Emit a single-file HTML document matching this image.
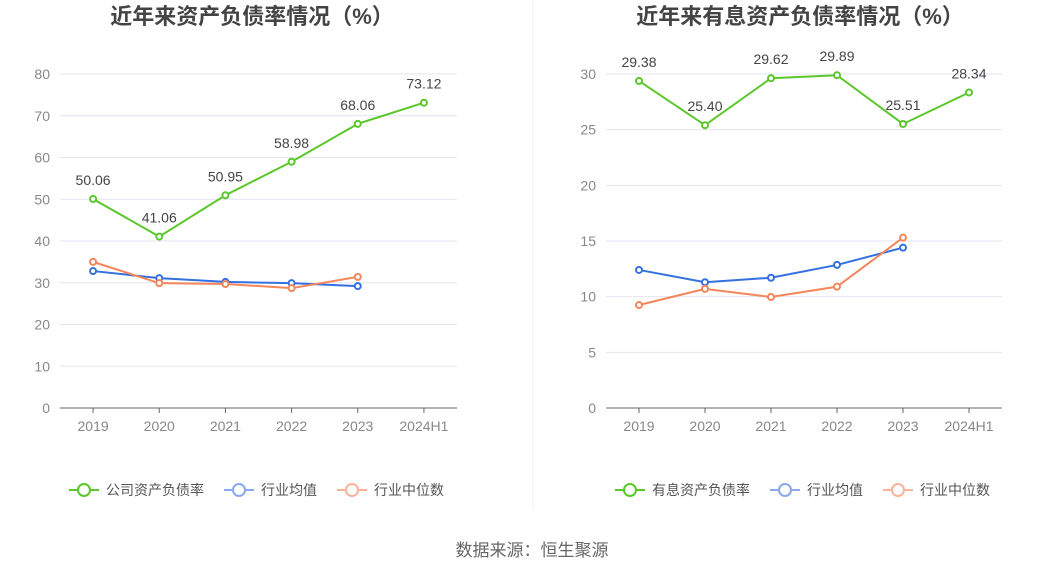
<!DOCTYPE html>
<html><head><meta charset="utf-8">
<style>
body{margin:0;background:#fff;font-family:"Liberation Sans","Noto Sans CJK SC",sans-serif;}
svg text{font-family:"Liberation Sans","Noto Sans CJK SC",sans-serif;}
</style></head>
<body>
<svg id="c" width="1062" height="573" xmlns="http://www.w3.org/2000/svg">
<line x1="533" y1="0" x2="533" y2="510" stroke="#eef0f4"/>
<text x="532" y="556" text-anchor="middle" font-size="17" fill="#666">数据来源：恒生聚源</text>
</svg>
<script>
const categories=["2019","2020","2021","2022","2023","2024H1"];
const leftCompany=[50.06,41.06,50.95,58.98,68.06,73.12];
const leftAvg=[32.8,31.1,30.2,29.9,29.2];
const leftMedian=[35.0,29.9,29.7,28.7,31.4];
const leftTicks=[0,10,20,30,40,50,60,70,80];
const rightCompany=[29.38,25.40,29.62,29.89,25.51,28.34];
const rightAvg=[12.4,11.3,11.7,12.85,14.4];
const rightMedian=[9.25,10.7,9.97,10.9,15.3];
const rightTicks=[0,5,10,15,20,25,30];
const legendLeft=["公司资产负债率","行业均值","行业中位数"];
const legendRight=["有息资产负债率","行业均值","行业中位数"];
const svg=document.getElementById('c');
const NS="http://www.w3.org/2000/svg";
function mk(tag,attrs,text){const e=document.createElementNS(NS,tag);for(const k in attrs)e.setAttribute(k,attrs[k]);if(text!==undefined)e.textContent=text;svg.appendChild(e);return e;}
function panel(p){
  const x0=p.x0,x1=p.x1,yb=408,yt=74,max=p.ticks[p.ticks.length-1];
  const step=(x1-x0)/categories.length;
  const X=i=>x0+step*(i+0.5);
  const Y=v=>yb-(v/max)*(yb-yt);
  let t=mk('text',{x:p.titleX,y:24,'text-anchor':'middle','font-size':22,'font-weight':'bold',fill:'#444'},p.title);
  
  p.ticks.forEach(v=>{
    let g=mk('line',{x1:x0,x2:x1,y1:Y(v),y2:Y(v),stroke:v===0?'#666':'#e3e6ef'});
    
    let l=mk('text',{x:x0-10,y:Y(v)+5,'text-anchor':'end','font-size':14,fill:'#888'},String(v));
    
  });
  categories.forEach((c,i)=>{
    let tk=mk('line',{x1:X(i),x2:X(i),y1:yb,y2:yb+5,stroke:'#666'});
    
    let l=mk('text',{x:X(i),y:yb+23,'text-anchor':'middle','font-size':14,fill:'#888'},c);
    
  });
  const series=[[p.avg,'#3470e0','avg'],[p.median,'#f5855a','median'],[p.company,'#5ac72a','company']];
  series.forEach(([d,col,nm])=>{
    let pl=mk('polyline',{points:d.map((v,i)=>X(i)+','+Y(v)).join(' '),fill:'none',stroke:col,'stroke-width':2});
    
    d.forEach((v,i)=>{
      let c=mk('circle',{cx:X(i),cy:Y(v),r:3,fill:'#fff',stroke:col,'stroke-width':2});
      
    });
  });
  p.company.forEach((v,i)=>{
    let l=mk('text',{x:X(i),y:Y(v)-14,'text-anchor':'middle','font-size':14,fill:'#444'},v.toFixed(2));
    
  });
  const cols=['#5ac72a','#8aa8ef','#f8b39a'];
  let lx=p.legX;
  p.legend.forEach((name,k)=>{
    let ln=mk('line',{x1:lx,x2:lx+30,y1:490,y2:490,stroke:cols[k],'stroke-width':2});
    
    let c=mk('circle',{cx:lx+15,cy:490,r:6,fill:'#fff',stroke:cols[k],'stroke-width':2});
    
    let tx=mk('text',{x:lx+37,y:495,'font-size':14,fill:'#555'},name);
    
    lx+=37+name.length*14+20;
  });
}
panel({id:'left',x0:60,x1:457,ticks:leftTicks,company:leftCompany,avg:leftAvg,median:leftMedian,title:'近年来资产负债率情况（%）',titleX:252,legend:legendLeft,legX:69});
panel({id:'right',x0:606,x1:1002,ticks:rightTicks,company:rightCompany,avg:rightAvg,median:rightMedian,title:'近年来有息资产负债率情况（%）',titleX:800,legend:legendRight,legX:615});
</script>
</body></html>
